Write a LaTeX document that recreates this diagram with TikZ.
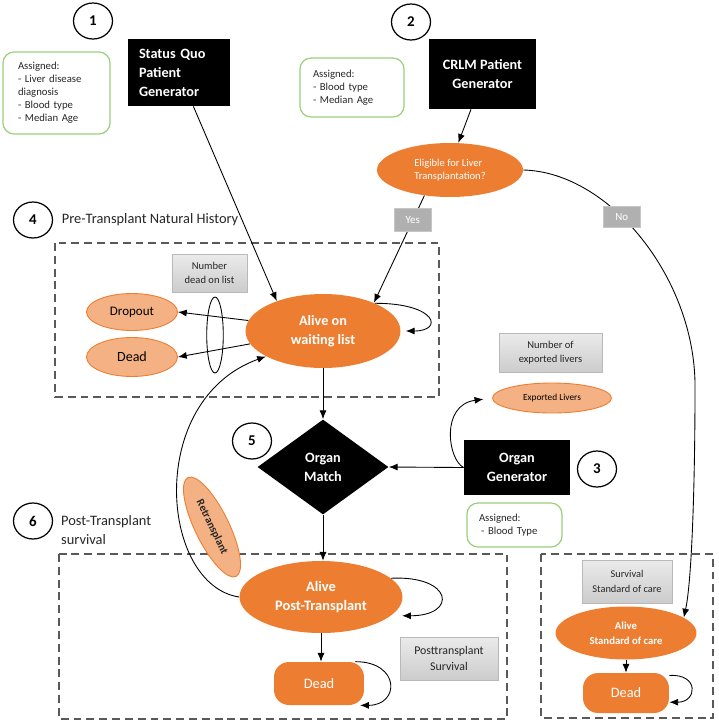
\documentclass[tikz,border=0pt]{standalone}
\usepackage{fontspec}
\setmainfont{Carlito}
\usetikzlibrary{arrows.meta, positioning, shapes.geometric}
\definecolor{orng}{HTML}{ED7D31}
\definecolor{salm}{HTML}{F4B183}
\definecolor{grn}{HTML}{9ACF7C}
\newcommand{\fsz}[2]{\fontsize{#1}{#2}\selectfont}

\begin{document}
\begin{tikzpicture}[x=0.02cm, y=-0.02cm,
  arr/.style={-{Latex[length=5pt,width=4pt]}, line width=0.5pt},
  numc/.style={draw, ellipse, line width=0.7pt, inner sep=0pt, minimum width=0.78cm, minimum height=0.72cm, font=\fsz{8.5}{10}\bfseries},
  blackbox/.style={fill=black, text=white, inner sep=0pt, align=center, font=\fsz{8.1}{10.8}\bfseries},
  assign/.style={draw=grn, line width=0.7pt, rounded corners=0.22cm, align=left, inner ysep=0pt, text=black!85, font=\fsz{6.1}{7.4}},
  orgell/.style={ellipse, fill=orng, text=white, inner sep=0pt, align=center},
  pinkell/.style={ellipse, fill=salm, draw=orng, line width=0.5pt, inner sep=0pt, align=center},
  greybox/.style={draw=gray!55, top color=gray!16, bottom color=gray!40, inner sep=0pt, align=center, text=black!85, font=\fsz{6}{7.8}},
  choice/.style={fill=gray!62, draw=gray!45, text=white, inner sep=0pt, minimum width=0.74cm, font=\fsz{6.2}{7}},
  deadbox/.style={fill=orng, text=white, rounded corners=0.3cm, inner sep=0pt, font=\fsz{8.2}{10}},
  dashbox/.style={draw=black!65, line width=0.7pt, dash pattern=on 4.5pt off 2.8pt},
  lbl/.style={align=left, text=black!85, font=\fsz{8.2}{11.2}}]
\useasboundingbox (0,0) rectangle (719,724);

% --- dashed frames ---
\draw[dashbox] (55,243) rectangle (439,397);
\draw[dashbox] (59,554) rectangle (507,719);
\draw[dashbox] (541,554) rectangle (713,718);

% --- patient generators ---
\node[numc] (c1) at (93,21) {1};
\node[blackbox, align=left, text width=1.6cm, inner xsep=0.22cm, minimum height=1.34cm] (sqgen) at (179,72.5) {Status Quo\\Patient\\Generator};
\node[assign, text width=1.54cm, inner xsep=0.3cm, minimum height=1.64cm] (asg1) at (56.5,93) {Assigned:\\- Liver disease\\diagnosis\\- Blood type\\- Median Age};
\node[numc] (c2) at (411,22) {2};
\node[blackbox, minimum width=2.14cm, minimum height=1.4cm] (crlm) at (482.5,74) {CRLM Patient\\Generator};
\node[assign, text width=1.56cm, inner xsep=0.26cm, minimum height=1.18cm] (asg2) at (352,87.5) {Assigned:\\- Blood type\\- Median Age};
\node[orgell, minimum width=2.92cm, minimum height=1.08cm, align=left, font=\fsz{6}{7.6}] (elig) at (450,170) {Eligible for Liver\\Transplantation?};
\draw[arr] (crlm.252) -- (elig.73);

% --- pre-transplant natural history ---
\node[numc] (c4) at (33,220) {4};
\node[lbl, right=0.05cm of c4] (lbl4) {Pre-Transplant Natural History};
\node[greybox, minimum width=1.5cm, minimum height=0.76cm] (ndead) at (209.5,273) {Number\\dead on list};
\node[pinkell, minimum width=1.82cm, minimum height=0.74cm, font=\fsz{7.4}{9}] (drop) at (132,312) {Dropout};
\node[pinkell, minimum width=1.82cm, minimum height=0.78cm, font=\fsz{8}{9}] (dead1) at (132,357) {Dead};
\node[orgell, minimum width=3.1cm, minimum height=1.48cm, font=\fsz{8.1}{10.8}\bfseries] (alivew) at (323,331) {Alive on\\waiting list};
\node[draw, ellipse, line width=0.5pt, minimum width=0.3cm, minimum height=1.52cm] (lens) at (215,335) {};
\draw[arr] (alivew.172) -- (drop.east);
\draw[arr] (alivew.190) -- (dead1.east);
\draw[arr] (alivew.28) .. controls +(62,0) and +(38,0) .. ([xshift=0.1cm]alivew.east);
\draw[arr] (sqgen.-67) -- (alivew.147);
\draw[arr] (elig.-135) -- node[choice, pos=0.23, minimum height=0.46cm] (yes) {Yes} (alivew.29);

% --- organ supply and matching ---
\node[numc] (c5) at (252,441) {5};
\node[diamond, fill=black, text=white, inner sep=0pt, minimum width=2.62cm, minimum height=1.9cm, align=center, font=\fsz{8.1}{10.8}\bfseries] (omatch) at (323,467) {Organ\\Match};
\node[blackbox, minimum width=2.12cm, minimum height=1.1cm] (ogen) at (517,467.5) {Organ\\Generator};
\node[numc] (c3) at (597,469) {3};
\node[assign, text width=1.42cm, inner xsep=0.24cm, minimum height=0.88cm] (asg3) at (514.5,525) {Assigned:\\\hspace*{0.2em}- Blood Type};
\node[greybox, minimum width=2.06cm, minimum height=0.78cm] (nexp) at (550.5,352.5) {Number of\\exported livers};
\node[pinkell, minimum width=2.38cm, minimum height=0.6cm, font=\fsz{5.3}{6}] (exl) at (552,398) {Exported Livers};
\draw[arr] (alivew.south) -- (omatch.north);
\draw[arr] (ogen.west) -- (omatch.east);
\draw[arr, shorten >=5pt] (ogen.west) .. controls (448,460) and (440,405) .. (exl.west);

% --- post-transplant survival ---
\node[numc] (c6) at (33,521) {6};
\node[lbl, anchor=west] (lbl6) at (55,530) {Post-Transplant\\survival};
\node[orgell, minimum width=3.26cm, minimum height=1.44cm, font=\fsz{8.2}{10.8}\bfseries] (apt) at (321,597) {Alive\\Post-Transplant};
\node[deadbox, minimum width=1.8cm, minimum height=0.86cm] (dead2) at (319,683.5) {Dead};
\node[greybox, minimum width=1.96cm, minimum height=0.86cm, font=\fsz{6.75}{8.9}] (ptsurv) at (449,658.5) {Posttransplant\\Survival};
\node[pinkell, rotate=-64, minimum width=2.2cm, minimum height=0.68cm, font=\fsz{6.3}{7}\bfseries, text=black!85] (retx) at (212,527) {Retransplant};
\draw[arr] (omatch.south) -- (omatch.south |- apt.north);
\draw[arr] (apt.south) -- (apt.south |- dead2.north);
\draw[arr] (apt.15) .. controls +(62,-3) and +(56,0) .. ([xshift=0.22cm]apt.-15);
\draw[arr] (dead2.31) .. controls +(45,0) and +(40,0) .. (dead2.-28);
\draw[arr] (apt.west) .. controls (160,585) and (145,400) .. (alivew.204);

% --- standard of care ---
\node[greybox, minimum width=1.8cm, minimum height=0.86cm, font=\fsz{5.9}{8.1}] (socsurv) at (627,581.5) {Survival\\Standard of care};
\node[orgell, minimum width=2.82cm, minimum height=1.06cm, font=\fsz{6.1}{8.4}\bfseries] (asoc) at (626,633) {Alive\\Standard of care};
\node[deadbox, minimum width=1.72cm, minimum height=0.8cm] (dead3) at (626,693) {Dead};
\draw[arr] (asoc.south) -- (dead3.north);
\draw[arr] (dead3.22) .. controls +(30,-2) and +(28,0) .. (dead3.-12);
\draw[arr] (elig.east) .. controls (610,172) and (697,280) .. node[choice, pos=0.4, minimum height=0.42cm] (no) {No} (695,390)
  .. controls (695,480) and (692,580) .. (asoc.15);
\end{tikzpicture}
\end{document}
